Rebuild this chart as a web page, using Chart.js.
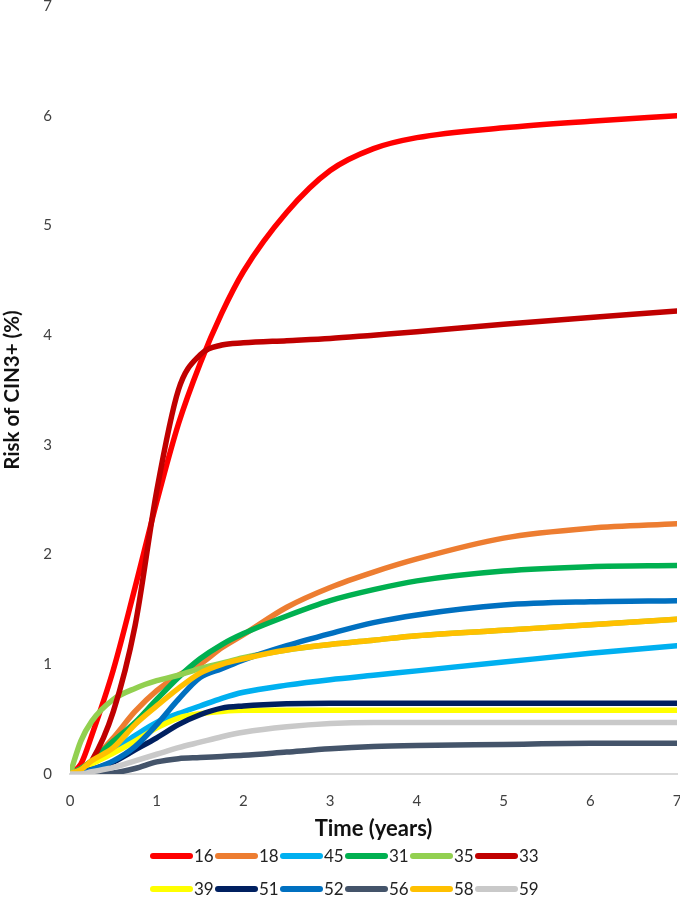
<!DOCTYPE html>
<html>
<head>
<meta charset="utf-8">
<script src="https://cdn.jsdelivr.net/npm/chart.js@4/dist/chart.umd.min.js"></script>
<style>
  html, body { margin: 0; padding: 0; background: #fff; }
  #wrap { position: relative; width: 680px; height: 922px; }
  #chart { position: absolute; left: 0; top: 0; }
  #legend { position: absolute; left: 150px; top: 839px; width: 420px; font-family: Lato, "Open Sans", sans-serif; font-size: 17px; color: #222; }
  .row { display: flex; height: 33px; align-items: center; }
  .item { display: flex; align-items: center; width: 65px; }
  .sw { width: 43px; height: 6px; border-radius: 3px; margin-right: 1px; }
</style>
</head>
<body>
<div id="wrap">
  <canvas id="chart" width="680" height="922"></canvas>
  <div id="legend"></div>
</div>
<script>
// ---- data ----
const times = [0, 0.125, 0.25, 0.5, 0.75, 1, 1.25, 1.5, 1.75, 2, 2.5, 3, 3.5, 4, 5, 6, 7];
const seriesNames = ['16', '18', '45', '31', '35', '33', '39', '51', '52', '56', '58', '59'];
const hpv16 = [0, 0.09, 0.35, 0.95, 1.7, 2.48, 3.19, 3.74, 4.2, 4.58, 5.12, 5.5, 5.7, 5.8, 5.89, 5.95, 6.0];
const hpv18 = [0, 0.05, 0.12, 0.33, 0.57, 0.76, 0.9, 1.0, 1.15, 1.27, 1.52, 1.7, 1.84, 1.96, 2.15, 2.24, 2.28];
const hpv45 = [0, 0.04, 0.1, 0.22, 0.35, 0.47, 0.55, 0.62, 0.69, 0.745, 0.81, 0.86, 0.9, 0.94, 1.02, 1.1, 1.17];
const hpv31 = [0, 0.05, 0.12, 0.3, 0.47, 0.68, 0.88, 1.05, 1.18, 1.28, 1.44, 1.58, 1.68, 1.76, 1.85, 1.89, 1.9];
const hpv35 = [0, 0.3, 0.48, 0.68, 0.78, 0.85, 0.9, 0.96, 1.01, 1.06, 1.13, 1.18, 1.22, 1.26, 1.31, 1.36, 1.41];
const hpv33 = [0, 0.02, 0.12, 0.57, 1.35, 2.58, 3.5, 3.82, 3.91, 3.93, 3.95, 3.97, 4.0, 4.03, 4.1, 4.16, 4.22];
const hpv39 = [0, 0.03, 0.09, 0.19, 0.3, 0.42, 0.51, 0.55, 0.57, 0.58, 0.58, 0.58, 0.58, 0.58, 0.58, 0.58, 0.58];
const hpv51 = [0, 0.01, 0.04, 0.11, 0.22, 0.33, 0.45, 0.54, 0.6, 0.62, 0.64, 0.645, 0.645, 0.645, 0.645, 0.645, 0.645];
const hpv52 = [0, 0.01, 0.04, 0.12, 0.25, 0.45, 0.68, 0.88, 0.96, 1.04, 1.17, 1.28, 1.38, 1.45, 1.54, 1.57, 1.58];
const hpv56 = [0, 0, 0, 0.01, 0.05, 0.11, 0.14, 0.15, 0.16, 0.17, 0.2, 0.23, 0.25, 0.26, 0.27, 0.28, 0.28];
const hpv58 = [0, 0.04, 0.12, 0.24, 0.45, 0.62, 0.78, 0.92, 1.0, 1.05, 1.13, 1.18, 1.22, 1.26, 1.31, 1.36, 1.41];
const hpv59 = [0, 0, 0.02, 0.06, 0.12, 0.18, 0.24, 0.29, 0.34, 0.38, 0.43, 0.46, 0.47, 0.47, 0.47, 0.47, 0.47];
const xTicks = [0, 1, 2, 3, 4, 5, 6, 7];
const yTicks = [0, 1, 2, 3, 4, 5, 6, 7];

const seriesValues = [hpv16, hpv18, hpv45, hpv31, hpv35, hpv33, hpv39, hpv51, hpv52, hpv56, hpv58, hpv59];
const colors = ['#FF0000', '#ED7D31', '#00B0F0', '#00B050', '#92D050', '#C00000',
                '#FFFF00', '#002060', '#0070C0', '#44546A', '#FFC000', '#C9C9C9'];

const FONT = 'Lato, "Open Sans", sans-serif';

const datasets = seriesNames.map((name, i) => ({
  label: name,
  data: times.map((t, j) => ({ x: t, y: seriesValues[i][j] })),
  borderColor: colors[i],
  backgroundColor: colors[i],
  borderWidth: 5.5,
  borderCapStyle: 'round',
  borderJoinStyle: 'round',
  pointRadius: 0,
  pointHoverRadius: 0,
  fill: false,
  cubicInterpolationMode: 'monotone',
  order: seriesNames.length - i
}));

const chart = new Chart(document.getElementById('chart'), {
  type: 'line',
  data: { datasets },
  options: {
    responsive: false,
    animation: false,
    layout: { padding: { top: 0, right: 0, bottom: 80, left: 0 } },
    plugins: { legend: { display: false }, tooltip: { enabled: false } },
    scales: {
      x: {
        type: 'linear', min: 0, max: 7,
        afterBuildTicks: (s) => { s.ticks = xTicks.map(v => ({ value: v })); },
        afterFit: (s) => { s.paddingLeft = 0; s.paddingRight = 3; s.height = 68; },
        grid: { display: false, drawTicks: false },
        border: { display: true, color: '#D9D9D9', width: 2 },
        ticks: { padding: 18, color: '#404040', font: { family: FONT, size: 15 } },
        title: { display: true, text: 'Time (years)', color: '#111', padding: { top: 0, bottom: 0 },
                 font: { family: FONT, size: 22, weight: 'bold' } }
      },
      y: {
        type: 'linear', min: 0, max: 7,
        afterBuildTicks: (s) => { s.ticks = yTicks.map(v => ({ value: v })); },
        afterFit: (s) => { s.width = 70; s.paddingTop = 6; s.paddingBottom = 0; },
        grid: { display: false, drawTicks: false },
        border: { display: false },
        ticks: { padding: 18, color: '#404040', font: { family: FONT, size: 15 } },
        title: { display: true, text: 'Risk of CIN3+ (%)', color: '#111', padding: { top: 0, bottom: 18 },
                 font: { family: FONT, size: 20.5, weight: 'bold' } }
      }
    }
  }
});

// HTML legend built from the chart's datasets
const legendEl = document.getElementById('legend');
const perRow = 6;
for (let r = 0; r < Math.ceil(datasets.length / perRow); r++) {
  const row = document.createElement('div');
  row.className = 'row';
  datasets.slice(r * perRow, (r + 1) * perRow).forEach(ds => {
    const item = document.createElement('div');
    item.className = 'item';
    const sw = document.createElement('span');
    sw.className = 'sw';
    sw.style.background = ds.borderColor;
    const tx = document.createElement('span');
    tx.textContent = ds.label;
    item.appendChild(sw); item.appendChild(tx);
    row.appendChild(item);
  });
  legendEl.appendChild(row);
}
</script>
</body>
</html>
